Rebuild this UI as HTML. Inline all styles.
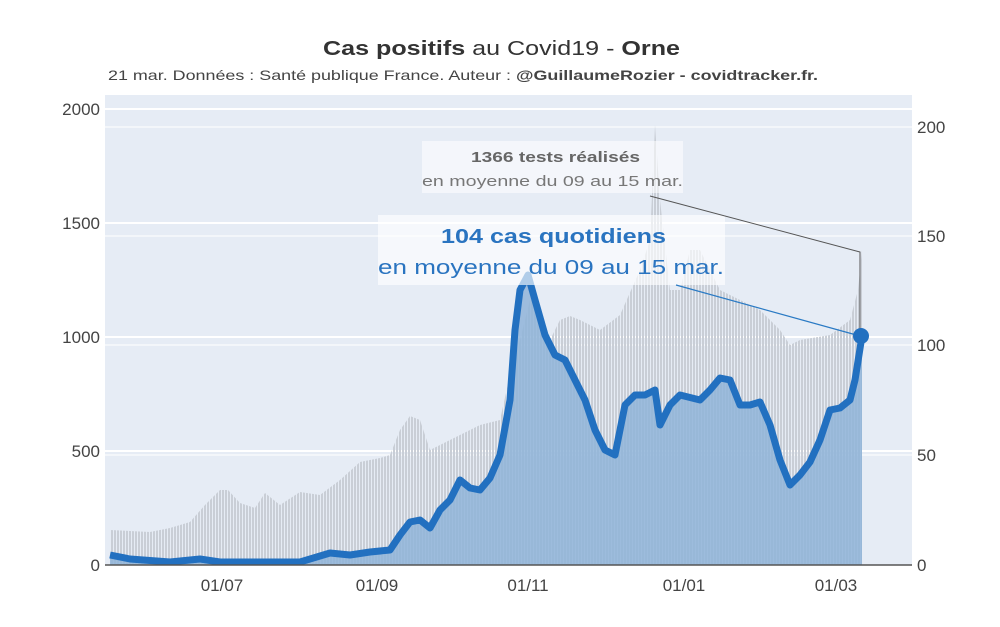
<!DOCTYPE html>
<html><head><meta charset="utf-8"><style>
body{margin:0;background:#fff;}
text{font-family:"Liberation Sans",sans-serif;}
</style></head><body>
<svg width="1000" height="622" xmlns="http://www.w3.org/2000/svg">
<rect x="105" y="95" width="807" height="470" fill="#e6ecf5"/>
<g stroke="#fff" stroke-width="2">
<line x1="105" x2="912" y1="451" y2="451"/><line x1="105" x2="912" y1="337" y2="337"/>
<line x1="105" x2="912" y1="223" y2="223"/><line x1="105" x2="912" y1="109" y2="109"/>
<line x1="105" x2="912" y1="455" y2="455" stroke-opacity=".5"/><line x1="105" x2="912" y1="345" y2="345" stroke-opacity=".5"/>
<line x1="105" x2="912" y1="236" y2="236" stroke-opacity=".5"/><line x1="105" x2="912" y1="127" y2="127" stroke-opacity=".5"/>
</g>
<defs><pattern id="p" width="3" height="10" patternUnits="userSpaceOnUse"><rect width="2" height="10" fill="#c9ced6"/></pattern></defs>
<polygon fill="url(#p)" points="110,565 110,530 150,532 170,528 190,522 205,505 220,490 228,490 240,503 255,508 265,493 280,505 300,492 320,495 340,480 360,462 380,458 390,455 400,430 410,416 420,420 430,450 440,445 460,435 480,425 500,420 510,375 520,340 530,300 540,305 550,340 560,320 570,316 580,320 590,325 600,330 620,315 640,270 650,240 655,125 660,200 670,290 680,290 690,250 700,250 720,290 740,300 760,310 780,330 790,345 800,340 830,335 850,320 858,290 862,250 862,565"/>
<polygon fill="#8fb4d8" fill-opacity=".85" points="110,565 110,555 130,559 170,562 200,559 220,562 300,562 330,553 350,555 370,552 390,550 400,535 410,522 420,520 430,528 440,510 450,500 460,480 470,488 480,490 490,478 500,455 510,400 515,330 520,290 528,275 535,300 545,335 555,355 565,360 575,380 585,400 595,430 605,450 615,455 625,405 635,395 645,395 655,390 660,425 670,405 680,395 700,400 710,390 720,378 730,380 740,405 750,405 760,402 770,425 780,460 790,485 800,475 810,462 820,440 830,410 840,408 850,400 855,380 862,336 862,565"/>
<polyline fill="none" stroke="#2270c0" stroke-width="7" stroke-linejoin="round" points="110,555 130,559 170,562 200,559 220,562 300,562 330,553 350,555 370,552 390,550 400,535 410,522 420,520 430,528 440,510 450,500 460,480 470,488 480,490 490,478 500,455 510,400 515,330 520,290 528,275 535,300 545,335 555,355 565,360 575,380 585,400 595,430 605,450 615,455 625,405 635,395 645,395 655,390 660,425 670,405 680,395 700,400 710,390 720,378 730,380 740,405 750,405 760,402 770,425 780,460 790,485 800,475 810,462 820,440 830,410 840,408 850,400 855,380 862,336"/>
<line x1="105" x2="912" y1="565" y2="565" stroke="#555" stroke-width="1.5"/>
<rect x="422" y="141" width="261" height="52" fill="#fff" fill-opacity=".55"/>
<rect x="378" y="215" width="347" height="70" fill="#fff" fill-opacity=".65"/>
<polyline fill="none" stroke="#555" stroke-width="1" points="650,196 860,252 860,336"/>
<line x1="676" y1="285" x2="860" y2="336" stroke="#2a7ac4" stroke-width="1.2"/>
<circle cx="861" cy="336" r="8" fill="#2270c0"/>
<text x="471" y="162" textLength="169" lengthAdjust="spacingAndGlyphs" font-size="15" font-weight="bold" fill="#666">1366 tests réalisés</text>
<text x="422" y="186" textLength="261" lengthAdjust="spacingAndGlyphs" font-size="15" fill="#777">en moyenne du 09 au 15 mar.</text>
<text x="441" y="243" textLength="225" lengthAdjust="spacingAndGlyphs" font-size="20" font-weight="bold" fill="#2a74c0">104 cas quotidiens</text>
<text x="378" y="274" textLength="346" lengthAdjust="spacingAndGlyphs" font-size="20" fill="#2a74c0">en moyenne du 09 au 15 mar.</text>
<g font-size="17" fill="#444" text-anchor="end">
<text x="100" y="571">0</text><text x="100" y="457">500</text><text x="100" y="343">1000</text><text x="100" y="229">1500</text><text x="100" y="115">2000</text>
</g>
<g font-size="17" fill="#444">
<text x="917" y="571">0</text><text x="917" y="461">50</text><text x="917" y="351">100</text><text x="917" y="242">150</text><text x="917" y="133">200</text>
</g>
<g font-size="17" fill="#444" text-anchor="middle">
<text x="222" y="591">01/07</text><text x="377" y="591">01/09</text><text x="528" y="591">01/11</text><text x="684" y="591">01/01</text><text x="836" y="591">01/03</text>
</g>
<text x="323" y="55" textLength="357" lengthAdjust="spacingAndGlyphs" font-size="20" fill="#333"><tspan font-weight="bold">Cas positifs</tspan> au Covid19 - <tspan font-weight="bold">Orne</tspan></text>
<text x="108" y="80" textLength="710" lengthAdjust="spacingAndGlyphs" font-size="14" fill="#444">21 mar. Données : Santé publique France. Auteur : <tspan font-weight="bold">@GuillaumeRozier - covidtracker.fr.</tspan></text>
</svg>
</body></html>
